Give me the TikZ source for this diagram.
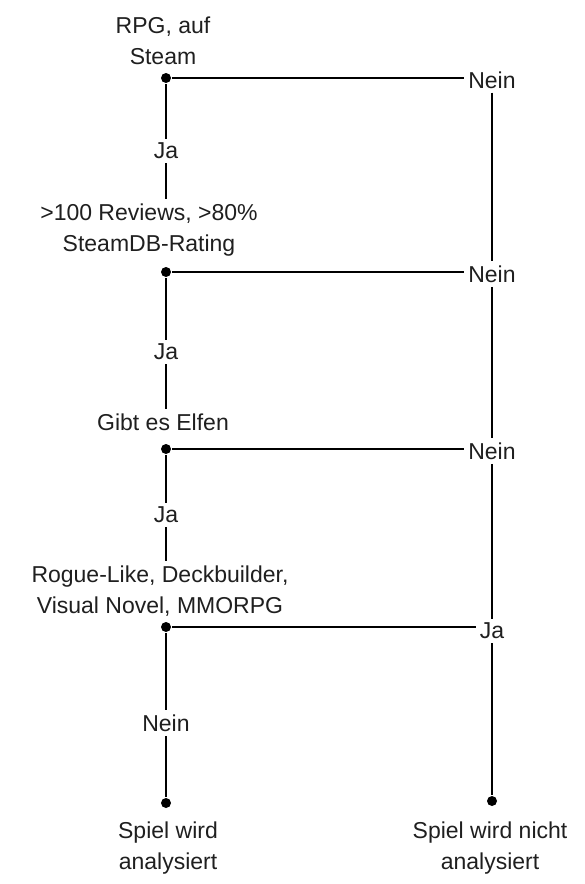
\documentclass[tikz,border=0pt]{standalone}
\usepackage{fontspec}
\setmainfont{Liberation Sans}
\begin{document}
\begin{tikzpicture}[x=1pt,y=-1pt,line width=2.6pt,
  every node/.style={font=\fontsize{23}{31}\selectfont,align=center,text=black!88},
  dot/.style={circle,fill=black,inner sep=0pt,minimum size=10pt},
  lbl/.style={fill=white,inner sep=3pt}]
\useasboundingbox (0,0) rectangle (585,884);

% questions
\node (q1) at (163,41) {RPG, auf\\Steam};
\node (q2) at (149,230) {>100 Reviews, >80\%\\SteamDB-Rating};
\node (q3) at (163,422) {Gibt es Elfen};
\node (q4) at (160,591) {Rogue-Like, Deckbuilder,\\Visual Novel, MMORPG};

% results
\node (r1) at (168,848) {Spiel wird\\analysiert};
\node (r2) at (490,848) {Spiel wird nicht\\analysiert};

\begin{scope}[every node/.append style={dot}]
    \node (d1) at (166,78) {};
    \node (d2) at (166,272) {};
    \node (d3) at (166,449) {};
    \node (d4) at (166,627) {};
    \node (e1) at (166,803) {};
    \node (e2) at (492,801) {};
\end{scope}

\begin{scope}[every node/.append style={lbl}]
    \node (n1) at (492,80) {Nein};
    \node (n2) at (492,274) {Nein};
    \node (n3) at (492,451) {Nein};
    \node (j4) at (492,631) {Ja};
    \node (j1) at (166,151) {Ja};
    \node (j2) at (166,352) {Ja};
    \node (j3) at (166,515) {Ja};
    \node (n4) at (166,723) {Nein};
\end{scope}

% branches to the right
\draw (d1) -- (d1 -| n1.west);
\draw (d2) -- (d2 -| n2.west);
\draw (d3) -- (d3 -| n3.west);
\draw (d4) -- (d4 -| j4.west);
\draw (n1) -- (n2) -- (n3) -- (j4) -- (e2);

% main path
\draw (d1) -- (j1) -- (j1 |- q2.north);
\draw (d2) -- (j2) -- (j2 |- q3.north);
\draw (d3) -- (j3) -- (j3 |- q4.north);
\draw (d4) -- (n4) -- (e1);
\end{tikzpicture}
\end{document}
